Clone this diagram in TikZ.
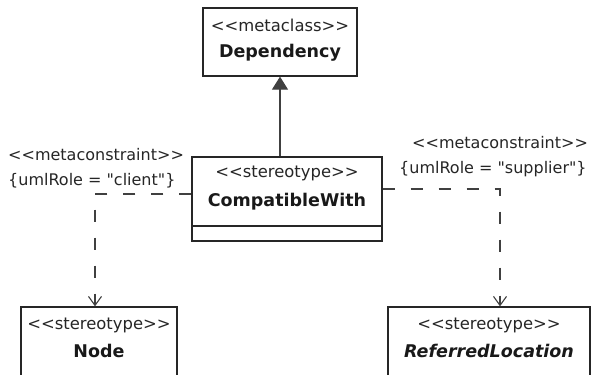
\documentclass[tikz,border=0pt]{standalone}
\usepackage{fontspec}
\setmainfont{DejaVu Sans}[Ligatures=TeXOff]
\usetikzlibrary{arrows.meta}
\begin{document}
\begin{tikzpicture}[x=1pt,y=-1pt,
  umlbox/.style={draw=black!85,line width=1.3pt,fill=white,inner sep=0pt},
  stxt/.style={font=\fontsize{16.4}{19}\selectfont,text=black!85,inner sep=0pt},
  ntxt/.style={font=\fontsize{17.5}{20}\selectfont\bfseries,text=black!90,inner sep=0pt},
  itxt/.style={font=\fontsize{17.5}{20}\selectfont\bfseries\itshape,text=black!90,inner sep=0pt},
  ltxt/.style={font=\fontsize{16}{19}\selectfont,text=black!85,inner sep=0pt,anchor=west},
  gen/.style={draw=black!75,line width=1.2pt,-{Triangle[width=16pt,length=13pt]}},
  dep/.style={draw=black!75,line width=1.1pt,dash pattern=on 12pt off 16pt,-{Straight Barb[width=13pt,length=9pt,line width=1.1pt]}}
]
\useasboundingbox (0,0) rectangle (593,374);
% boxes
\node[umlbox,minimum width=154pt,minimum height=68pt] (dep) at (280,42) {};
\node[stxt] (depst) at (280,25) {<<metaclass>>};
\node[ntxt] (depnm) at (280,53) {Dependency};

\node[umlbox,minimum width=190pt,minimum height=84pt] (comp) at (287,199) {};
\coordinate (compl) at (192,226);
\coordinate (compr) at (382,226);
\draw[draw=black!85,line width=1.3pt] (compl) -- (compr);
\node[stxt] (compst) at (287,173) {<<stereotype>>};
\node[ntxt] (compnm) at (287,202) {CompatibleWith};

\node[umlbox,minimum width=156pt,minimum height=90pt] (nodebox) at (99,352) {};
\node[stxt] (nodest) at (99,325) {<<stereotype>>};
\node[ntxt] (nodenm) at (99,351) {Node};

\node[umlbox,minimum width=202pt,minimum height=90pt] (refbox) at (489,352) {};
\node[stxt] (refst) at (489,325) {<<stereotype>>};
\node[itxt] (refnm) at (489,351) {ReferredLocation};

% labels
\node[ltxt] (lmc) at (8,155) {<<metaconstraint>>};
\node[ltxt] (lrole) at (8,181) {\{umlRole = "client"\}};
\node[ltxt] (rmc) at (412,143) {<<metaconstraint>>};
\node[ltxt] (rrole) at (399,169) {\{umlRole = "supplier"\}};

% connectors
\draw[gen] (comp.north -| dep.south) -- (dep.south);
\coordinate (lx) at (95,0);
\coordinate (rx) at (500,0);
\draw[dep] ([yshift=5pt]comp.west) -| (lx |- nodebox.north);
\draw[dep] ([yshift=10pt]comp.east) -| (rx |- refbox.north);
\end{tikzpicture}
\end{document}
